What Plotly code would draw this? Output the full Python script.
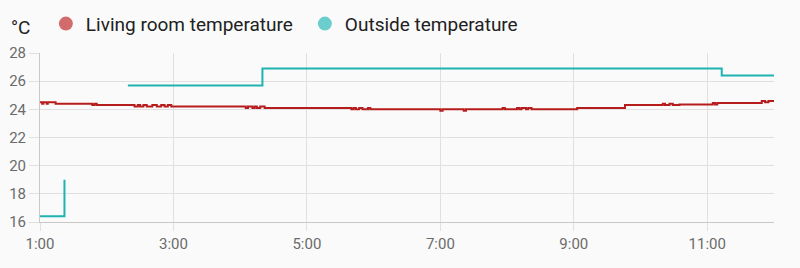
import plotly.graph_objects as go

DAY = "2024-06-01 "

# Living room temperature (step data, °C)
living_times = ["01:00", "01:02", "01:03", "01:06", "01:07", "01:14", "01:47", "01:49", "01:51",
                "02:25", "02:28", "02:30", "02:33", "02:36", "02:41", "02:45", "02:49", "02:52",
                "02:55", "02:58", "04:05", "04:07", "04:11", "04:13", "04:15", "04:18", "04:22",
                "04:27", "05:40", "05:42", "05:44", "05:47", "05:50", "05:55", "05:57", "06:00",
                "07:00", "07:02", "07:21", "07:23", "07:56", "07:58", "08:09", "08:11", "08:13",
                "08:17", "08:19", "08:22", "08:28", "09:03", "09:46", "10:20", "10:22", "10:26",
                "10:29", "10:35", "11:05", "11:07", "11:09", "11:49", "11:52", "11:55", "12:00"]
living_values = [24.5, 24.4, 24.5, 24.4, 24.5, 24.4, 24.3, 24.4, 24.3,
                 24.2, 24.3, 24.2, 24.3, 24.2, 24.3, 24.2, 24.3, 24.2,
                 24.3, 24.2, 24.1, 24.2, 24.1, 24.2, 24.1, 24.2, 24.1,
                 24.1, 24.0, 24.1, 24.0, 24.1, 24.0, 24.1, 24.0, 24.0,
                 23.9, 24.0, 23.9, 24.0, 24.1, 24.0, 24.1, 24.0, 24.1,
                 24.0, 24.1, 24.0, 24.0, 24.1, 24.3, 24.4, 24.3, 24.4,
                 24.3, 24.35, 24.45, 24.35, 24.45, 24.6, 24.5, 24.6, 24.6]

# Outside temperature (step data, °C; None = no data)
outside_times = ["01:00", "01:22", "01:23", "02:19", "04:20", "11:13", "12:00"]
outside_values = [16.4, 19.0, None, 25.7, 26.9, 26.4, 26.4]

series_names = ["Living room temperature", "Outside temperature"]
line_colors = ["#b71c1c", "#1fb2b2"]
legend_colors = ["#d26c6c", "#6ccdcd"]

y_ticks = [16, 18, 20, 22, 24, 26, 28]

fig = go.Figure()
fig.add_trace(go.Scatter(x=[DAY + t for t in living_times], y=living_values, mode="lines",
                         line=dict(color=line_colors[0], width=2, shape="hv"),
                         showlegend=False, hoverinfo="skip"))
fig.add_trace(go.Scatter(x=[DAY + t for t in outside_times], y=outside_values, mode="lines",
                         line=dict(color=line_colors[1], width=2, shape="hv"),
                         connectgaps=False, showlegend=False, hoverinfo="skip"))
for name, col in zip(series_names, legend_colors):
    fig.add_trace(go.Scatter(x=[None], y=[None], mode="markers", name=name,
                             marker=dict(color=col, size=14, symbol="circle")))

grid = "#e0e0e0"
fig.update_layout(
    width=800, height=268,
    margin=dict(l=40, r=26, t=53, b=46, autoexpand=False),
    paper_bgcolor="#fafafa", plot_bgcolor="#fafafa",
    font=dict(family="Roboto", size=15, color="#6b6b6b"),
    showlegend=True,
    legend=dict(orientation="h", x=0.008, xanchor="left", y=1.173, yanchor="middle",
                font=dict(size=19, color="#212121"), itemwidth=30,
                entrywidth=214, entrywidthmode="pixels",
                bgcolor="rgba(0,0,0,0)"),
    xaxis=dict(type="date", range=[DAY + "01:00", DAY + "12:00"],
               tick0=DAY + "01:00", dtick=2 * 3600 * 1000, tickformat="%-H:%M",
               showgrid=True, gridcolor=grid, gridwidth=1,
               ticks="outside", ticklen=8, tickcolor=grid,
               showline=True, linecolor="#c8c8c8", linewidth=1,
               zeroline=False, fixedrange=True),
    yaxis=dict(range=[16, 28], tickvals=y_ticks, ticktext=[str(v) for v in y_ticks],
               showgrid=True, gridcolor=grid, gridwidth=1,
               ticks="outside", ticklen=10, tickcolor=grid,
               showline=True, linecolor="#c8c8c8", linewidth=1,
               zeroline=False, fixedrange=True),
    annotations=[dict(text="°C", xref="paper", yref="paper", x=-0.027, y=1.148,
                      xanchor="center", yanchor="middle", showarrow=False,
                      font=dict(size=19, color="#212121"))],
)

fig.write_html("out.html")
